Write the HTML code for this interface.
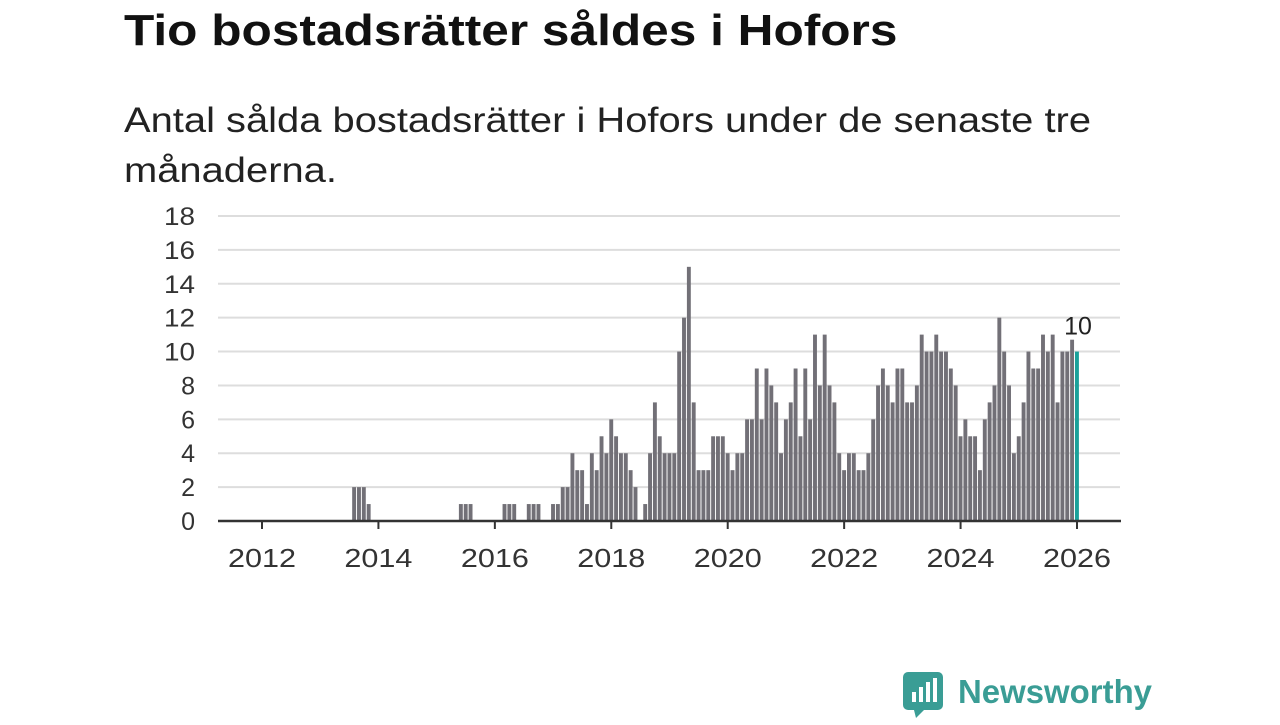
<!DOCTYPE html>
<html><head><meta charset="utf-8"><style>
body{margin:0;width:1280px;height:720px;background:#fff;overflow:hidden;font-family:"Liberation Sans","DejaVu Sans",sans-serif;}
#title{position:absolute;left:124px;top:6px;font-size:44px;font-weight:bold;color:#111;margin:0;transform:scaleX(1.127);transform-origin:0 0;white-space:nowrap;}
#sub{position:absolute;left:124px;top:96px;font-size:35px;line-height:50px;color:#222;width:860px;transform:scaleX(1.14);transform-origin:0 0;}
#chart{position:absolute;left:0;top:0;}
#logo{position:absolute;left:902px;top:670px;}
</style></head><body>
<h1 id="title">Tio bostadsrätter såldes i Hofors</h1>
<div id="sub">Antal sålda bostadsrätter i Hofors under de senaste tre månaderna.</div>
<svg id="chart" width="1280" height="720"></svg>
<div id="logo">
<svg width="260" height="50"><rect x="1" y="2" width="40" height="38" rx="5" fill="#3a9d95"/><polygon points="12,40 22,40 14,48" fill="#3a9d95"/>
<rect x="10" y="22" width="4" height="10" fill="#fff"/><rect x="17" y="17" width="4" height="15" fill="#fff"/><rect x="24" y="12" width="4" height="20" fill="#fff"/><rect x="31" y="8" width="4" height="24" fill="#fff"/>
<text x="56" y="33" font-size="33" font-weight="bold" fill="#3a9d95" font-family="Liberation Sans, sans-serif" textLength="194" lengthAdjust="spacingAndGlyphs">Newsworthy</text></svg></div>
<script>
const startYear = 2012;
const values = [
0,0,0,0,0,0,0,0,0,0,0,0,
0,0,0,0,0,0,0,2,2,2,1,0,
0,0,0,0,0,0,0,0,0,0,0,0,
0,0,0,0,0,1,1,1,0,0,0,0,
0,0,1,1,1,0,0,1,1,1,0,0,
1,1,2,2,4,3,3,1,4,3,5,4,
6,5,4,4,3,2,0,1,4,7,5,4,
4,4,10,12,15,7,3,3,3,5,5,5,
4,3,4,4,6,6,9,6,9,8,7,4,
6,7,9,5,9,6,11,8,11,8,7,4,
3,4,4,3,3,4,6,8,9,8,7,9,
9,7,7,8,11,10,10,11,10,10,9,8,
5,6,5,5,3,6,7,8,12,10,8,4,
5,7,10,9,9,11,10,11,7,10,10,10.7,
10];
const yTicks = [0,2,4,6,8,10,12,14,16,18];
const xTickYears = [2012,2014,2016,2018,2020,2022,2024,2026];
const lastLabel = "10";

const svg = document.getElementById('chart');
const NS = 'http://www.w3.org/2000/svg';
const x0 = 262, monthW = 815/168, y0 = 521, yScale = (521-216)/18;
const xPos = i => x0 + i*monthW;
const yPos = v => y0 - v*yScale;
function mk(tag, attrs){const e=document.createElementNS(NS,tag);for(const k in attrs)e.setAttribute(k,attrs[k]);svg.appendChild(e);return e;}
yTicks.forEach(t=>{
  const g=mk('line',{x1:218,x2:1120,y1:yPos(t),y2:yPos(t),stroke:'#ddd','stroke-width':2});
  
  
  const l=mk('text',{x:195,y:yPos(t)+9,'text-anchor':'end','font-size':25,fill:'#333'});
  l.textContent=t;
  if(String(t).length===2){l.setAttribute('textLength',31);l.setAttribute('lengthAdjust','spacingAndGlyphs');}
  
  
});
values.forEach((v,i)=>{
  const last=i===values.length-1;
  const r=mk('rect',{x:xPos(i)-2,y:yPos(v),width:3.9,height:v*yScale,fill:last?'#1aa19a':'#727077'});
  
  
});
const ax=mk('line',{x1:218,x2:1121,y1:y0,y2:y0,stroke:'#333','stroke-width':2.5});


xTickYears.forEach(yr=>{
  const x=xPos((yr-startYear)*12);
  const t=mk('line',{x1:x,x2:x,y1:y0,y2:y0+8,stroke:'#333','stroke-width':2});
  
  
  const l=mk('text',{x:x-34,y:567,'font-size':26,fill:'#333',textLength:68,lengthAdjust:'spacingAndGlyphs'});
  l.textContent=yr;
  
  
});
const li=values.length-1;
const lab=mk('text',{x:xPos(li)+1,y:yPos(values[li])-17,'text-anchor':'middle','font-size':25,fill:'#222'});
lab.textContent=lastLabel;


</script>
</body></html>
